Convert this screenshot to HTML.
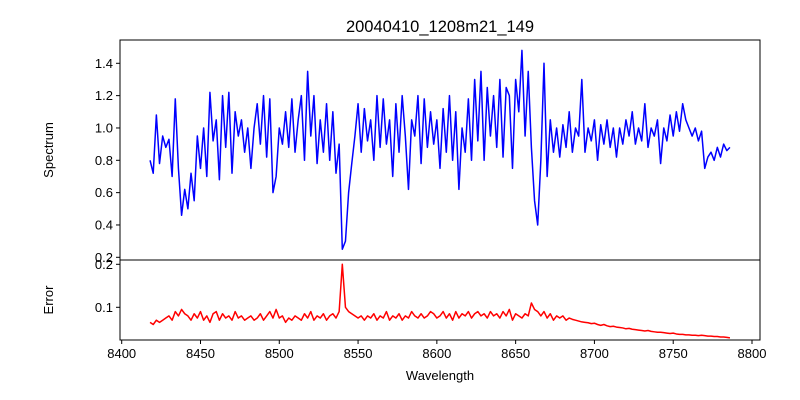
<!DOCTYPE html>
<html><head><meta charset="utf-8"><style>
body{margin:0;background:#fff;}
svg{display:block;font-family:"Liberation Sans","DejaVu Sans",sans-serif;}
</style></head><body>
<svg id="c" width="800" height="400" xmlns="http://www.w3.org/2000/svg"></svg>
<script>
const xStart = 8418, xStep = 2;
const spectrum = [
0.80,0.72,1.08,0.78,0.95,0.88,0.93,0.70,1.18,0.75,
0.46,0.62,0.50,0.72,0.55,0.95,0.75,1.00,0.70,1.22,
0.92,1.05,0.68,1.20,0.88,1.22,0.72,1.10,0.95,1.05,
0.85,1.00,0.75,1.00,1.15,0.90,1.20,0.82,1.18,0.60,
0.70,1.00,0.90,1.10,0.88,1.18,0.85,1.05,1.20,0.80,
1.35,0.95,1.20,0.78,1.05,0.85,1.15,0.80,1.10,0.72,
0.90,0.25,0.30,0.60,0.78,0.95,1.15,0.85,1.12,0.92,
1.05,0.80,1.20,0.88,1.18,0.90,1.05,0.70,1.15,0.85,
1.20,0.95,0.62,1.05,0.95,1.20,0.78,1.18,0.88,1.10,
0.90,1.05,0.75,1.12,0.85,1.20,0.80,1.10,0.62,1.00,
0.85,1.18,0.80,1.30,0.92,1.35,0.80,1.25,0.95,1.20,
0.88,1.30,0.82,1.25,1.20,0.75,1.30,1.10,1.48,0.95,
1.35,0.88,0.55,0.40,0.80,1.40,0.70,1.05,0.85,1.00,
0.82,1.02,0.88,1.10,0.85,1.00,0.95,1.30,0.85,1.00,
0.92,1.05,0.80,1.02,0.90,1.05,0.88,1.00,0.82,1.00,
0.90,1.05,0.95,1.10,0.90,1.00,0.92,1.15,0.88,1.00,
0.95,1.05,0.78,1.00,0.92,1.08,0.95,1.10,0.98,1.15,
1.05,1.00,0.95,1.00,0.92,0.98,0.75,0.82,0.85,0.80,
0.88,0.82,0.90,0.86,0.88];
const errors = [
0.065,0.06,0.07,0.065,0.07,0.075,0.08,0.07,0.09,0.08,
0.095,0.085,0.08,0.07,0.085,0.075,0.09,0.07,0.08,0.065,
0.085,0.09,0.07,0.085,0.075,0.08,0.07,0.09,0.075,0.08,
0.07,0.075,0.08,0.07,0.075,0.085,0.07,0.08,0.09,0.075,
0.095,0.075,0.08,0.065,0.075,0.07,0.08,0.075,0.07,0.085,
0.075,0.09,0.07,0.08,0.075,0.085,0.07,0.08,0.085,0.075,
0.09,0.2,0.1,0.09,0.085,0.08,0.075,0.08,0.07,0.08,
0.075,0.085,0.07,0.08,0.075,0.09,0.07,0.08,0.075,0.085,
0.07,0.08,0.075,0.09,0.08,0.075,0.085,0.075,0.08,0.09,
0.085,0.075,0.08,0.09,0.075,0.085,0.07,0.09,0.075,0.085,
0.08,0.09,0.075,0.085,0.09,0.08,0.085,0.075,0.09,0.08,
0.085,0.075,0.09,0.08,0.095,0.07,0.085,0.08,0.075,0.085,
0.08,0.11,0.095,0.09,0.08,0.09,0.075,0.085,0.07,0.08,
0.075,0.08,0.07,0.075,0.072,0.07,0.068,0.066,0.065,0.064,
0.062,0.063,0.06,0.058,0.06,0.057,0.055,0.056,0.054,0.053,
0.052,0.05,0.051,0.049,0.048,0.047,0.046,0.045,0.046,0.044,
0.043,0.042,0.042,0.041,0.04,0.039,0.04,0.038,0.037,0.037,
0.036,0.036,0.035,0.035,0.034,0.035,0.034,0.033,0.033,0.032,
0.032,0.031,0.031,0.03,0.029];
const xTicks = [8400,8450,8500,8550,8600,8650,8700,8750,8800];
const specTicks = [0.2,0.4,0.6,0.8,1.0,1.2,1.4];
const errTicks = [0.1,0.2];

const NS = "http://www.w3.org/2000/svg";
const svg = document.getElementById('c');
const L = 120, R = 760, T1 = 40, B1 = 260, T2 = 260, B2 = 340;
const xScale = v => 121.7 + (v - 8400) * (630.3 / 400);
const y1 = v => 257.3 - (v - 0.2) * (194 / 1.2);
const y2 = v => 307.3 - (v - 0.1) * 430;
function el(tag, attrs, text) {
  const e = document.createElementNS(NS, tag);
  for (const k in attrs) e.setAttribute(k, attrs[k]);
  if (text !== undefined) e.textContent = text;
  svg.appendChild(e);
  return e;
}
function series(arr, ys, color, name) {
  const d = arr.map((v, i) => (i ? 'L' : 'M') + xScale(xStart + i * xStep).toFixed(2) + ',' + ys(v).toFixed(2)).join('');
  const p = el('path', {d: d, fill: 'none', stroke: color, 'stroke-width': 1.5, 'stroke-linejoin': 'round'});
  
  
}
series(spectrum, y1, '#0000ff', 'spectrum-line');
series(errors, y2, '#ff0000', 'error-line');
const f1 = el('rect', {x: L, y: T1, width: R - L, height: B1 - T1, fill: 'none', stroke: '#000', 'stroke-width': 1});


const f2 = el('rect', {x: L, y: T2, width: R - L, height: B2 - T2, fill: 'none', stroke: '#000', 'stroke-width': 1});


xTicks.forEach(v => {
  const x = xScale(v);
  el('line', {x1: x, x2: x, y1: B2, y2: B2 + 4, stroke: '#000'});
  const t = el('text', {x: x, y: B2 + 18, 'text-anchor': 'middle', 'font-size': 13}, String(v));
  
  
});
specTicks.forEach(v => {
  const y = y1(v);
  el('line', {x1: L - 4, x2: L, y1: y, y2: y, stroke: '#000'});
  const t = el('text', {x: L - 7, y: y + 4.5, 'text-anchor': 'end', 'font-size': 13}, v.toFixed(1));
  
  
});
errTicks.forEach(v => {
  const y = y2(v);
  el('line', {x1: L - 4, x2: L, y1: y, y2: y, stroke: '#000'});
  const t = el('text', {x: L - 7, y: y + 4.5, 'text-anchor': 'end', 'font-size': 13}, v.toFixed(1));
  
  
});
const title = el('text', {x: 440, y: 32, 'text-anchor': 'middle', 'font-size': 16.5}, '20040410_1208m21_149');


const xl = el('text', {x: 440, y: 380, 'text-anchor': 'middle', 'font-size': 13}, 'Wavelength');


const yl1 = el('text', {x: 0, y: 0, 'text-anchor': 'middle', 'font-size': 13, transform: 'translate(53,150) rotate(-90)'}, 'Spectrum');


const yl2 = el('text', {x: 0, y: 0, 'text-anchor': 'middle', 'font-size': 13, transform: 'translate(53,300) rotate(-90)'}, 'Error');


</script>
</body></html>
